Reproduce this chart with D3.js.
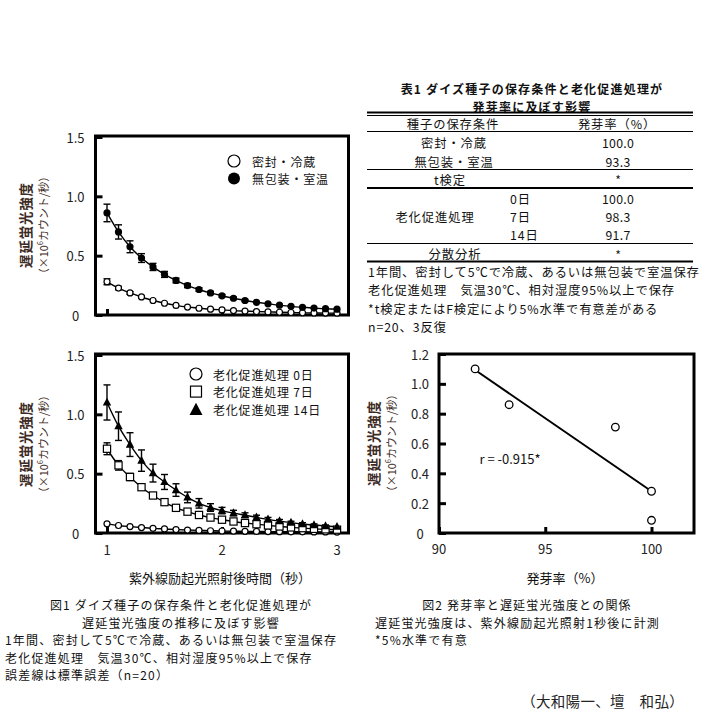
<!DOCTYPE html>
<html><head><meta charset="utf-8">
<script src="https://cdn.jsdelivr.net/npm/d3@7"></script>
<style>
html,body{margin:0;padding:0;background:#fff;}
svg{display:block;font-family:"Noto Sans CJK JP","Noto Sans",sans-serif;}
</style></head>
<body><svg id="c" width="705" height="728"></svg>
<script>
// ---------- data ----------
const times = [1.0,1.1,1.2,1.3,1.4,1.5,1.6,1.7,1.8,1.9,2.0,2.1,2.2,2.3,2.4,2.5,2.6,2.7,2.8,2.9,3.0];
const xTicks = [1,2,3];
const yTicksDF = [0,0.5,1.0,1.5];
const yTickLabelsDF = ["0","0.5","1.0","1.5"];

// Fig.1 top: storage condition
const storageNames = ["密封・冷蔵","無包装・室温"];
const sealedCold   = [0.28,0.227,0.186,0.152,0.122,0.099,0.081,0.067,0.057,0.049,0.043,0.037,0.033,0.029,0.026,0.023,0.021,0.019,0.017,0.016,0.015];
const sealedColdSE = [0.025,0.014,0.011,0.009,0.008,0.007,0.006,0.005,0.005,0.004,0.004,0.004,0.004,0.003,0.003,0.003,0.003,0.003,0.003,0.003,0.003];
const unpackedRoom   = [0.86,0.70,0.575,0.48,0.405,0.342,0.291,0.248,0.215,0.186,0.162,0.141,0.122,0.107,0.094,0.083,0.073,0.065,0.058,0.053,0.049];
const unpackedRoomSE = [0.074,0.06,0.05,0.037,0.03,0.025,0.02,0.017,0.015,0.013,0.011,0.01,0.009,0.008,0.007,0.006,0.006,0.005,0.005,0.005,0.005];

// Fig.1 bottom: accelerated aging
const agingNames = ["老化促進処理 0日","老化促進処理 7日","老化促進処理 14日"];
const aging0    = [0.077,0.063,0.054,0.046,0.039,0.034,0.029,0.025,0.022,0.019,0.017,0.015,0.014,0.013,0.012,0.011,0.010,0.010,0.009,0.009,0.008];
const aging0SE  = [0.008,0.005,0.004,0.003,0.003,0.003,0.002,0.002,0.002,0.002,0.002,0.002,0.002,0.002,0.002,0.002,0.002,0.002,0.002,0.002,0.002];
const aging7    = [0.71,0.57,0.472,0.386,0.316,0.26,0.212,0.18,0.152,0.13,0.112,0.097,0.084,0.074,0.064,0.055,0.047,0.041,0.035,0.031,0.028];
const aging7SE  = [0.05,0.04,0.03,0.02,0.016,0.013,0.011,0.01,0.009,0.008,0.007,0.006,0.006,0.005,0.005,0.005,0.004,0.004,0.004,0.004,0.004];
const aging14   = [1.10,0.90,0.745,0.61,0.505,0.43,0.362,0.30,0.25,0.215,0.189,0.168,0.15,0.132,0.115,0.10,0.087,0.076,0.067,0.059,0.053];
const aging14SE = [0.148,0.12,0.1,0.09,0.075,0.063,0.053,0.045,0.04,0.032,0.027,0.023,0.02,0.018,0.016,0.014,0.012,0.011,0.01,0.009,0.008];

// Fig.2: germination rate vs delayed fluorescence at 1 s
const germRate = [91.7,93.3,98.3,100.0,100.0];
const dfAt1s   = [1.10,0.86,0.71,0.28,0.085];
const scatXTicks = [90,95,100];
const scatYTicks = [0,0.2,0.4,0.6,0.8,1.0,1.2];
const scatYTickLabels = ["0","0.2","0.4","0.6","0.8","1.0","1.2"];
const rLabel = "r = -0.915*";

// Table 1
const tableTitle = ["表1  ダイズ種子の保存条件と老化促進処理が","発芽率に及ぼす影響"];
const tableHeader = ["種子の保存条件","発芽率（%）"];
const storageRates = ["100.0","93.3"];
const tTest = ["t検定","*"];
const agingGroup = "老化促進処理";
const agingDays = ["0日","7日","14日"];
const agingRates = ["100.0","98.3","91.7"];
const anova = ["分散分析","*"];
const tableNotes = ["1年間、密封して5℃で冷蔵、あるいは無包装で室温保存","老化促進処理　気温30℃、相対湿度95%以上で保存","*t検定またはF検定により5%水準で有意差がある","n=20、3反復"];

// captions
const fig1Caption = ["図1  ダイズ種子の保存条件と老化促進処理が","遅延蛍光強度の推移に及ぼす影響"];
const fig1Notes = ["1年間、密封して5℃で冷蔵、あるいは無包装で室温保存","老化促進処理　気温30℃、相対湿度95%以上で保存","誤差線は標準誤差（n=20）"];
const fig2Caption = "図2  発芽率と遅延蛍光強度との関係";
const fig2Notes = ["遅延蛍光強度は、紫外線励起光照射1秒後に計測","*5%水準で有意"];
const authors = "（大和陽一、壇　和弘）";
const yLabelMain = "遅延蛍光強度";
const xLabelTime = "紫外線励起光照射後時間（秒）";
const xLabelGerm = "発芽率（%）";

// ---------- drawing ----------
const svg = d3.select("#c");
const labelColor = "#3c2a24";
const tickColor = "#222";

function yLabel(cx, cy) {
  const g = svg.append("g").attr("transform", `translate(${cx},${cy}) rotate(-90)`);
  g.append("text").attr("text-anchor","middle").attr("dominant-baseline","central")
    .attr("font-size",13.5).attr("font-weight",700).attr("letter-spacing",0.8).attr("fill",labelColor).text(yLabelMain);
  const t = g.append("text").attr("y",18).attr("text-anchor","middle").attr("dominant-baseline","central")
    .attr("font-size",11).attr("fill",labelColor);
  t.append("tspan").text("（×10");
  t.append("tspan").attr("font-size",7.5).attr("dy",-4).text("6");
  t.append("tspan").attr("dy",4).text("カウント/秒）");
}

function frame(x0,x1,y0,y1){
  svg.append("rect").attr("x",x0).attr("y",y0).attr("width",x1-x0).attr("height",y1-y0)
    .attr("fill","none").attr("stroke","#000").attr("stroke-width",3);
}

function curveChart(opt){
  const x = d3.scaleLinear().domain([0.9,3.1]).range([95.5,348.5]);
  const y = d3.scaleLinear().domain([0,1.5]).range([opt.bottom,opt.bottom-178]);
  frame(x.range()[0],x.range()[1],y.range()[1]-1,y.range()[0]);
  const yAxis = d3.axisRight(y).tickValues(yTicksDF).tickSize(7).tickFormat(()=> "");
  const ga = svg.append("g").attr("transform",`translate(${x.range()[0]},0)`).call(yAxis);
  ga.select(".domain").remove();
  ga.selectAll("line").attr("stroke","#000").attr("stroke-width",3);
  svg.selectAll(null).data(yTicksDF).enter().append("text")
    .attr("x",75.5).attr("y",d=>y(d)).attr("text-anchor","middle").attr("dominant-baseline","central")
    .attr("font-size",13).attr("fill",tickColor).text((d,i)=>yTickLabelsDF[i]);
  const xAxis = d3.axisTop(x).tickValues(xTicks).tickSize(6).tickFormat(()=> "");
  const gx = svg.append("g").attr("transform",`translate(0,${opt.bottom})`).call(xAxis);
  gx.select(".domain").remove();
  gx.selectAll("line").attr("stroke","#000").attr("stroke-width",3);
  if (opt.xLabels) {
    svg.selectAll(null).data(xTicks).enter().append("text")
      .attr("x",d=>x(d)).attr("y",opt.bottom+16).attr("text-anchor","middle").attr("dominant-baseline","central")
      .attr("font-size",13).attr("fill",tickColor).text(d=>d);
  }
  const line = d3.line().x((d,i)=>x(times[i])).y(d=>y(d)).curve(d3.curveMonotoneX);
  opt.series.forEach(s=>{
    svg.append("path").attr("d",line(s.values)).attr("fill","none").attr("stroke","#000").attr("stroke-width",1.4);
  });
  opt.series.forEach(s=>{
    const g = svg.append("g");
    s.values.forEach((v,i)=>{
      const cx = x(times[i]), se = s.se[i];
      if (y(v-se)-y(v+se) > 2) {
        g.append("line").attr("x1",cx).attr("x2",cx).attr("y1",y(v+se)).attr("y2",y(v-se)).attr("stroke","#000").attr("stroke-width",1.4);
        [v+se,v-se].forEach(e=>g.append("line").attr("x1",cx-3.5).attr("x2",cx+3.5).attr("y1",y(e)).attr("y2",y(e)).attr("stroke","#000").attr("stroke-width",1.4));
      }
    });
    s.values.forEach((v,i)=>marker(g,s.shape,x(times[i]),y(v),s.size));
  });
}

function marker(g,shape,cx,cy,size){
  if (shape==="open") g.append("circle").attr("cx",cx).attr("cy",cy).attr("r",size).attr("fill","#fff").attr("stroke","#000").attr("stroke-width",1.2);
  else if (shape==="filled") g.append("circle").attr("cx",cx).attr("cy",cy).attr("r",size).attr("fill","#000");
  else if (shape==="square") g.append("rect").attr("x",cx-size).attr("y",cy-size).attr("width",2*size).attr("height",2*size).attr("fill","#fff").attr("stroke","#000").attr("stroke-width",1.2);
  else if (shape==="tri") g.append("path").attr("d",`M${cx},${cy-size*1.15}L${cx+size},${cy+size*0.75}L${cx-size},${cy+size*0.75}Z`).attr("fill","#000");
}

// Top chart
curveChart({bottom:315, xLabels:false, series:[
  {values:sealedCold, se:sealedColdSE, shape:"open", size:3},
  {values:unpackedRoom, se:unpackedRoomSE, shape:"filled", size:3.6}
]});
yLabel(25,225);
const leg1 = [{shape:"open",name:storageNames[0]},{shape:"filled",name:storageNames[1]}];
leg1.forEach((d,i)=>{
  const yy = 161 + i*17.6;
  marker(svg,d.shape,234,yy,6);
  svg.append("text").attr("x",252).attr("y",yy).attr("dominant-baseline","central").attr("font-size",12)
    .attr("letter-spacing",0.8).attr("fill","#111").text(d.name);
});

// Bottom chart
curveChart({bottom:533, xLabels:true, series:[
  {values:aging0, se:aging0SE, shape:"open", size:3},
  {values:aging7, se:aging7SE, shape:"square", size:3.6},
  {values:aging14, se:aging14SE, shape:"tri", size:4.2}
]});
yLabel(25,444);
const leg2 = [{shape:"open",size:6},{shape:"square",size:5.5},{shape:"tri",size:6.5}];
leg2.forEach((d,i)=>{
  const yy = 374 + i*17.6;
  marker(svg,d.shape,196,yy+(d.shape==="tri"?1:0),d.size);
  svg.append("text").attr("x",213).attr("y",yy).attr("dominant-baseline","central").attr("font-size",12)
    .attr("letter-spacing",0.8).attr("fill","#111").text(agingNames[i]);
});
svg.append("text").attr("x",220).attr("y",577).attr("text-anchor","middle").attr("dominant-baseline","central")
  .attr("font-size",13).attr("fill","#111").text(xLabelTime);

// Scatter chart
{
  const x = d3.scaleLinear().domain([90,102]).range([439,694]);
  const y = d3.scaleLinear().domain([0,1.2]).range([533,354]);
  frame(439,694,354,533);
  const ya = svg.append("g").attr("transform","translate(439,0)").call(d3.axisRight(y).tickValues(scatYTicks).tickSize(7).tickFormat(()=> ""));
  ya.select(".domain").remove(); ya.selectAll("line").attr("stroke","#000").attr("stroke-width",3);
  const xa = svg.append("g").attr("transform","translate(0,533)").call(d3.axisTop(x).tickValues(scatXTicks).tickSize(6).tickFormat(()=> ""));
  xa.select(".domain").remove(); xa.selectAll("line").attr("stroke","#000").attr("stroke-width",3);
  svg.selectAll(null).data(scatYTicks).enter().append("text").attr("x",420).attr("y",d=>y(d))
    .attr("text-anchor","middle").attr("dominant-baseline","central").attr("font-size",13).attr("fill",tickColor).text((d,i)=>scatYTickLabels[i]);
  svg.selectAll(null).data(scatXTicks).enter().append("text").attr("x",d=>x(d)).attr("y",548)
    .attr("text-anchor","middle").attr("dominant-baseline","central").attr("font-size",13).attr("fill",tickColor).text(d=>d);
  const mx = d3.mean(germRate), my = d3.mean(dfAt1s);
  let sxy=0,sxx=0; germRate.forEach((v,i)=>{sxy+=(v-mx)*(dfAt1s[i]-my); sxx+=(v-mx)*(v-mx);});
  const b = sxy/sxx, a = my-b*mx;
  const [xmin,xmax] = d3.extent(germRate);
  svg.append("line").attr("x1",x(xmin)).attr("y1",y(a+b*xmin)).attr("x2",x(xmax)).attr("y2",y(a+b*xmax))
    .attr("stroke","#000").attr("stroke-width",2);
  germRate.forEach((v,i)=>svg.append("circle").attr("cx",x(v)).attr("cy",y(dfAt1s[i])).attr("r",3.8)
    .attr("fill","#fff").attr("stroke","#000").attr("stroke-width",1.3));
  svg.append("text").attr("x",510).attr("y",458).attr("text-anchor","middle").attr("dominant-baseline","central")
    .attr("font-size",13).attr("fill","#111").text(rLabel);
  yLabel(373,443);
  svg.append("text").attr("x",565).attr("y",577).attr("text-anchor","middle").attr("dominant-baseline","central")
    .attr("font-size",13).attr("fill","#111").text(xLabelGerm);
}

// Table 1
{
  const T = svg.append("g").attr("font-size",12.3).attr("fill","#111");
  tableTitle.forEach((t,i)=>T.append("text").attr("x",532).attr("y",88.5+i*17.5).attr("text-anchor","middle")
    .attr("dominant-baseline","central").attr("font-weight",700).attr("font-size",12).attr("letter-spacing",1.2).text(t));
  const hl = (yy,w)=>T.append("line").attr("x1",367).attr("x2",693).attr("y1",yy).attr("y2",yy).attr("stroke","#000").attr("stroke-width",w);
  hl(112.5,2); hl(115.5,1); hl(131.5,1); hl(169.5,1); hl(188,2); hl(243.5,1); hl(261.5,2);
  const cell=(x,yy,t,anchor,ls)=>T.append("text").attr("x",x).attr("y",yy).attr("text-anchor",anchor||"middle")
    .attr("letter-spacing",ls===undefined?0.9:ls).attr("dominant-baseline","central").text(t);
  cell(453,124,tableHeader[0]); cell(617,124,tableHeader[1]);
  storageNames.forEach((n,i)=>{cell(454,143+i*18.5,n); cell(618,143+i*18.5,storageRates[i],"middle",0.3);});
  cell(450,179.5,tTest[0]); cell(618,180,tTest[1],"middle",0);
  cell(435,217,agingGroup);
  agingDays.forEach((d,i)=>{cell(510,199+i*18,d,"start"); cell(618,199+i*18,agingRates[i],"middle",0.3);});
  cell(455,254,anova[0]); cell(618,255,anova[1],"middle",0);
  tableNotes.forEach((t,i)=>cell(368,272+i*18.3,t,"start"));
}

// Captions
{
  const C = svg.append("g").attr("font-size",12).attr("letter-spacing",1.2).attr("fill","#111");
  fig1Caption.forEach((t,i)=>C.append("text").attr("x",181).attr("y",604.5+i*17.5).attr("text-anchor","middle").attr("dominant-baseline","central").text(t));
  fig1Notes.forEach((t,i)=>C.append("text").attr("x",5).attr("y",639.5+i*17.5).attr("dominant-baseline","central").text(t));
  C.append("text").attr("x",527).attr("y",604.5).attr("text-anchor","middle").attr("dominant-baseline","central").text(fig2Caption);
  fig2Notes.forEach((t,i)=>C.append("text").attr("x",375).attr("y",622+i*17.5).attr("dominant-baseline","central").text(t));
  C.append("text").attr("x",684).attr("y",700).attr("text-anchor","end").attr("dominant-baseline","central")
    .attr("font-size",14.5).attr("letter-spacing",0.3).attr("fill","#222").text(authors);
}
</script></body></html>
